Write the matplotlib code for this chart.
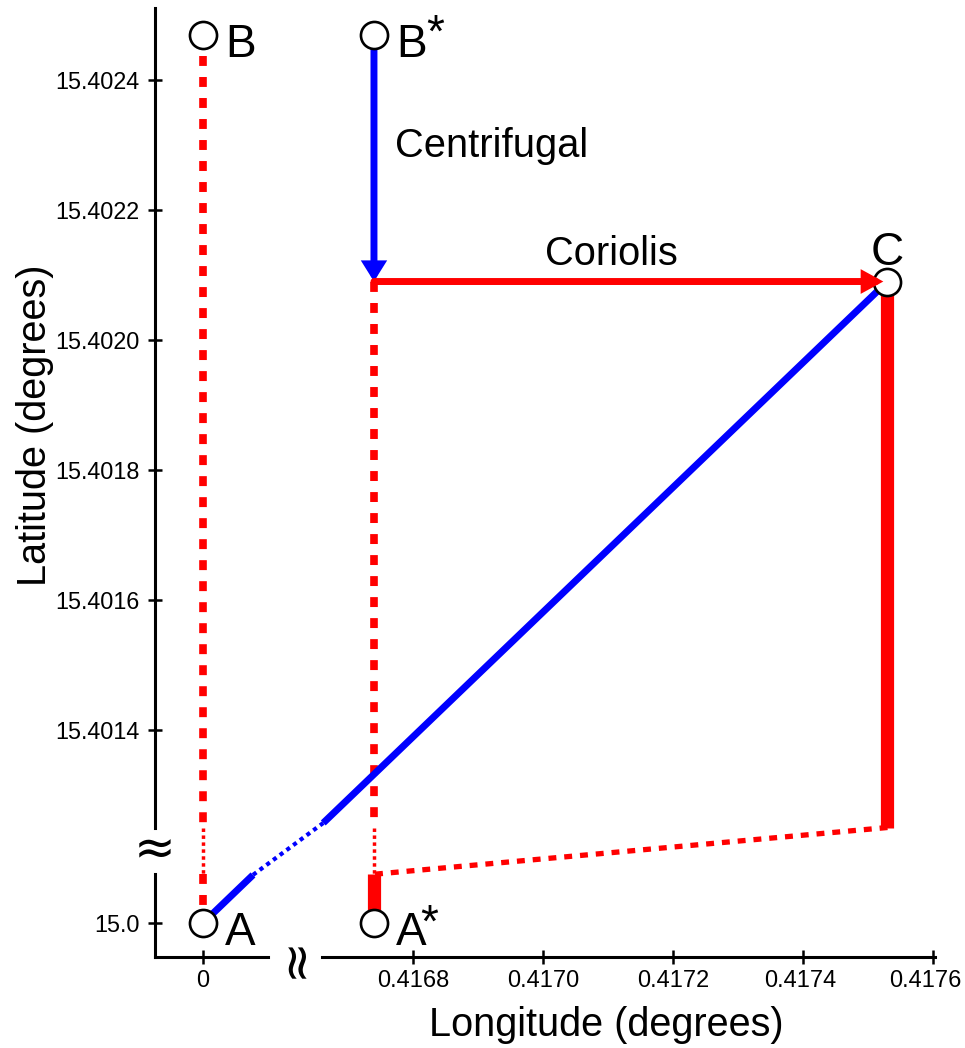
import numpy as np
import matplotlib
matplotlib.use('Agg')
import matplotlib.pyplot as plt
import matplotlib.transforms as mtransforms
from matplotlib import font_manager

plt.rcParams['font.family'] = ['Liberation Sans', 'DejaVu Sans']

# points of the diagram: (longitude, latitude) in degrees
point_names = ['A', 'B', 'A*', 'B*', 'C']
point_lon = [0.0, 0.0, 0.41674, 0.41674, 0.41753]
point_lat = [15.0, 15.40247, 15.0, 15.40247, 15.40209]

# where both axes are broken
lon_break = [0.0001, 0.41666]
lat_break = [15.000075, 15.40125]

# blue path A -> C (last piece before the break is dotted)
blue_lon = [0.0, 0.000077, 0.416662, 0.41753]
blue_lat = [15.0, 15.000074, 15.401257, 15.40209]

# red path C -> A*
red_lon = [0.41753, 0.41753, 0.41674, 0.41674]
red_lat = [15.40209, 15.40125, 15.000075, 15.0]

# centrifugal / coriolis arrows
cf_start = (0.41674, 15.40247)
cf_end = (0.41674, 15.40209)
co_end = (0.41753, 15.40209)

x_ticks = [0.0, 0.4168, 0.4170, 0.4172, 0.4174, 0.4176]
x_ticklabels = ['0', '0.4168', '0.4170', '0.4172', '0.4174', '0.4176']
y_ticks = [15.0, 15.4014, 15.4016, 15.4018, 15.4020, 15.4022, 15.4024]
y_ticklabels = ['15.0', '15.4014', '15.4016', '15.4018', '15.4020', '15.4022', '15.4024']

lon_lim = (-0.0000738, 0.4176031)
lat_lim = (14.9999477, 15.4025108)

# broken-axis scales (piecewise linear, same slope on both sides of the gap)
K = 650000.0
lon_nodes = [-1.0, lon_break[0], lon_break[1], 2.0]
u_nodes = [-K, lon_break[0] * K, (lon_break[1] - 0.4168) * K + 210, (2.0 - 0.4168) * K + 210]
lat_nodes = [14.0, lat_break[0], lat_break[1], 16.5]
v_nodes = [-K, (lat_break[0] - 15.0) * K, (lat_break[1] - 15.4024) * K + 843, (16.5 - 15.4024) * K + 843]

def x_fwd(v):
    return np.interp(v, lon_nodes, u_nodes)

def x_inv(v):
    return np.interp(v, u_nodes, lon_nodes)

def y_fwd(v):
    return np.interp(v, lat_nodes, v_nodes)

def y_inv(v):
    return np.interp(v, v_nodes, lat_nodes)


fig = plt.figure(figsize=(9.65, 10.48), dpi=100)
ax = fig.add_axes([155 / 965, 91 / 1048, 780 / 965, 949 / 1048])
ax.set_xscale('function', functions=(x_fwd, x_inv))
ax.set_yscale('function', functions=(y_fwd, y_inv))
ax.set_xlim(*lon_lim)
ax.set_ylim(*lat_lim)

red = '#ff0000'
blue = '#0000ff'
dash_style = dict(color=red, lw=5.5, dashes=(1.3, 1.45))
dot_style = dict(color=red, lw=2.5, dashes=(1, 1))

# vertical lines B -> A and (coriolis start) -> A*
for lon, top in [(point_lon[0], point_lat[1]), (cf_end[0], cf_end[1])]:
    ax.plot([lon, lon], [top, lat_break[1]], **dash_style)
    ax.plot([lon, lon], [lat_break[1], lat_break[0]], **dot_style)
ax.plot([point_lon[0], point_lon[0]], [lat_break[0], point_lat[0]], **dash_style)

# blue A -> C
ax.plot(blue_lon[:2], blue_lat[:2], color=blue, lw=5, solid_capstyle='butt')
ax.plot(blue_lon[1:3], blue_lat[1:3], color=blue, lw=3, dashes=(1, 1))
ax.plot(blue_lon[2:], blue_lat[2:], color=blue, lw=5, solid_capstyle='butt')

# red C -> A*
ax.plot(red_lon[:2], red_lat[:2], color=red, lw=9.5, solid_capstyle='butt')
ax.plot(red_lon[1:3], red_lat[1:3], color=red, lw=3.8, dashes=(1.5, 1.5))
ax.plot(red_lon[2:], red_lat[2:], color=red, lw=9.5, solid_capstyle='butt')

# arrows
ax.annotate('', xy=cf_end, xytext=cf_start,
            arrowprops=dict(arrowstyle='-|>,head_length=0.4,head_width=0.25',
                            mutation_scale=20, color=blue, lw=5,
                            shrinkA=0, shrinkB=0, joinstyle='miter'), zorder=3)
ax.annotate('', xy=co_end, xytext=cf_end,
            arrowprops=dict(arrowstyle='-|>,head_length=0.43,head_width=0.235',
                            mutation_scale=20, color=red, lw=5,
                            shrinkA=0, shrinkB=3, joinstyle='miter'), zorder=6)

ax.text(0.416772, 15.402282, 'Centrifugal', fontsize=28.7, ha='left', va='baseline')
ax.text(0.417003, 15.402115, 'Coriolis', fontsize=28.7, ha='left', va='baseline')

# points
ax.plot(point_lon, point_lat, 'o', ms=19.5, mfc='white', mec='black', mew=1.9,
        zorder=5, clip_on=False)

for name, lon, lat in zip(point_names, point_lon, point_lat):
    letter = name[0]
    if letter == 'C':
        ax.annotate(letter, (lon, lat), xytext=(0, 12), textcoords='offset points',
                    fontsize=33, ha='center', va='baseline')
        continue
    ax.annotate(letter, (lon, lat), xytext=(16, -16), textcoords='offset points',
                fontsize=33, ha='left', va='baseline')
    if name.endswith('*'):
        dx, dy = (37.4, -8.6) if letter == 'B' else (33.5, -10)
        ax.annotate('*', (lon, lat), xytext=(dx, dy), textcoords='offset points',
                    fontsize=33, ha='left', va='baseline')

# axes with breaks
for side in ['top', 'right']:
    ax.spines[side].set_visible(False)
ax.spines['left'].set_linewidth(2.2)
ax.spines['bottom'].set_linewidth(2.2)
ax.spines['left'].set_bounds(lat_break[1], lat_lim[1])
ax.spines['bottom'].set_bounds(lon_break[1], lon_lim[1])
ax.plot([0, 0], [lat_lim[0], lat_break[0]], transform=ax.get_yaxis_transform(),
        color='black', lw=2.2, clip_on=False, solid_capstyle='projecting')
ax.plot([lon_lim[0], lon_break[0]], [0, 0], transform=ax.get_xaxis_transform(),
        color='black', lw=2.2, clip_on=False, solid_capstyle='projecting')
ax.text(0, sum(lat_break) / 2, '\u2248', transform=ax.get_yaxis_transform(),
        fontsize=36, family='DejaVu Sans', ha='center', va='center')
ax.text(sum(lon_break) / 2 - 0.000004, 0, '\u2248', transform=ax.get_xaxis_transform(),
        fontsize=36, family='DejaVu Sans', ha='center', va='center', rotation=90)

# x tick labels look taller / narrower in the original
installed = {f.name for f in font_manager.fontManager.ttflist}
if 'Liberation Sans Narrow' in installed:
    xtick_font, xtick_size = 'Liberation Sans Narrow', 20.5
else:
    xtick_font, xtick_size = 'Liberation Sans', 17

ax.set_xticks(x_ticks)
ax.set_xticklabels(x_ticklabels, family=xtick_font, fontsize=xtick_size)
ax.set_yticks(y_ticks)
ax.set_yticklabels(y_ticklabels, fontsize=16.8)
ax.minorticks_off()
ax.tick_params(direction='inout', length=10, width=1.8, pad=6)
ax.tick_params(axis='x', pad=4.5)

# the last two x labels sit a little left of their ticks
for lab, shift in zip(ax.get_xticklabels()[-2:], [-3, -8]):
    lab.set_transform(lab.get_transform() +
                      mtransforms.ScaledTranslation(shift / 100, 0, fig.dpi_scale_trans))

ax.set_xlabel('Longitude (degrees)', fontsize=28.5, va='center')
ax.set_ylabel('Latitude (degrees)', fontsize=28.5, va='center')
ax.xaxis.set_label_coords((606 - 155) / 780, (957 - 1025) / 949)
ax.yaxis.set_label_coords((35 - 155) / 780, (957 - 425) / 949)

plt.savefig('out.png', dpi=100)
